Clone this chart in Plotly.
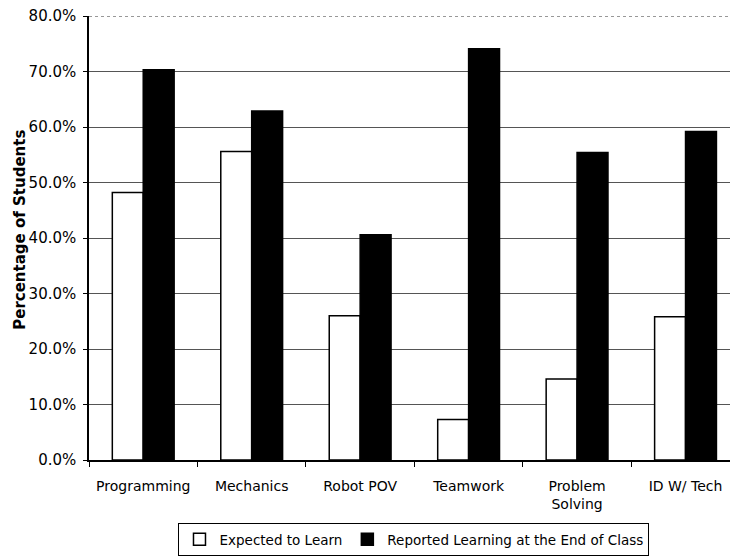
import plotly.graph_objects as go

categories = ["Programming", "Mechanics", "Robot POV", "Teamwork", "Problem<br>Solving", "ID W/ Tech"]
expected = [0.482, 0.556, 0.260, 0.073, 0.146, 0.258]
reported = [0.703, 0.629, 0.406, 0.741, 0.554, 0.592]
y_ticks = [0.0, 0.1, 0.2, 0.3, 0.4, 0.5, 0.6, 0.7, 0.8]

FONT = "DejaVu Sans"

fig = go.Figure()
fig.add_trace(go.Bar(
    x=categories, y=expected, name="Expected to Learn",
    marker=dict(color="white", line=dict(color="black", width=1.5)),
))
fig.add_trace(go.Bar(
    x=categories, y=reported, name="Reported Learning at the End of Class",
    marker=dict(color="black", line=dict(color="black", width=1.5)),
))

fig.update_layout(
    width=730, height=558,
    margin=dict(l=89, r=0, t=16, b=98, autoexpand=False),
    paper_bgcolor="white", plot_bgcolor="white",
    barmode="group", bargap=0.43, bargroupgap=0,
    font=dict(family=FONT, color="black"),
    showlegend=True,
    legend=dict(
        orientation="h", x=0.507, xanchor="center", y=-0.179, yanchor="middle",
        bordercolor="black", borderwidth=1, bgcolor="white",
        font=dict(size=13.5, family=FONT, color="black"),
        itemwidth=30, traceorder="normal",
    ),
    annotations=[dict(
        text="<b>Percentage of Students</b>", textangle=-90,
        xref="paper", yref="paper", x=-0.108, y=0.518,
        xanchor="center", yanchor="middle", showarrow=False,
        font=dict(size=15, family=FONT, color="black"),
    )],
    shapes=[
        dict(type="line", xref="paper", yref="y", x0=0, x1=1, y0=0.8, y1=0.8,
             line=dict(color="white", width=2)),
        dict(type="line", xref="paper", yref="y", x0=0, x1=1, y0=0.8, y1=0.8,
             line=dict(color="#333333", width=1, dash="dot")),
    ],
)

fig.update_xaxes(
    range=[-0.5, 5.41],
    automargin=False,
    showline=True, linecolor="black", linewidth=1.5,
    ticks="outside", tickson="boundaries", ticklen=5, tickcolor="black",
    tickfont=dict(size=14, family=FONT, color="black"),
    ticklabelstandoff=12,
    showgrid=False,
)
fig.update_yaxes(
    range=[0, 0.8],
    automargin=False,
    tickvals=y_ticks, tickformat=".1%",
    showline=True, linecolor="black", linewidth=1.5,
    ticks="outside", ticklen=4, tickcolor="black",
    tickfont=dict(size=15, family=FONT, color="black"),
    ticklabelstandoff=4,
    showgrid=True, gridcolor="#555555", gridwidth=1,
    zeroline=False,
)

fig.write_html("out.html", config={"displayModeBar": False},
               post_script="document.body.style.margin='0';")
